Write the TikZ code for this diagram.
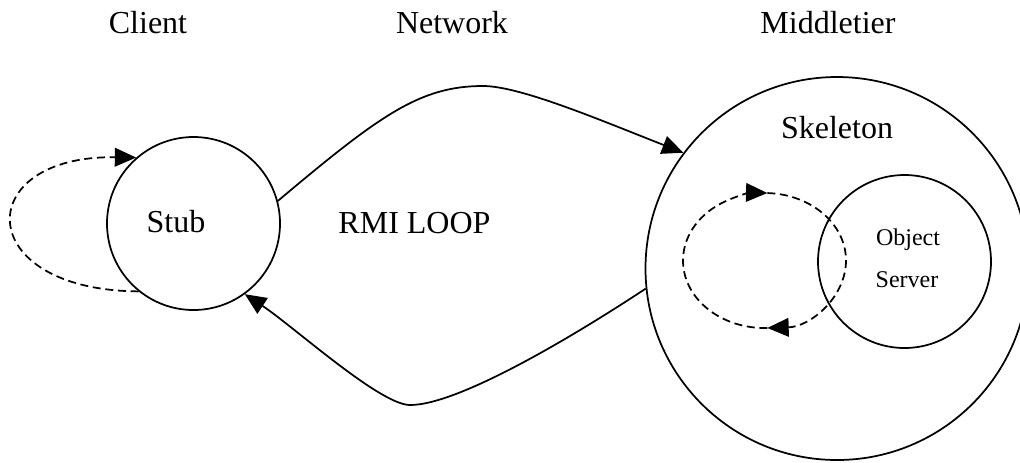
\documentclass[tikz,border=0pt]{standalone}
\usepackage{fontspec}
\setmainfont{Liberation Serif}
\usetikzlibrary{arrows.meta}

\tikzset{
  ring/.style={draw, circle, line width=1.3pt, inner sep=0pt},
  title/.style={anchor=base, inner sep=0pt, font=\fontsize{24}{28}\selectfont},
  small/.style={anchor=base, inner sep=0pt, font=\fontsize{18}{22}\selectfont},
  flow/.style={line width=1.3pt, -{Triangle[length=16pt, width=14pt]}},
  dashflow/.style={flow, dash pattern=on 6pt off 3.5pt},
}

\begin{document}
\begin{tikzpicture}[x=0.75pt, y=0.75pt]
  \useasboundingbox (0,0) rectangle (1020,-462);

  % tier headings
  \node[title] (client)  at (148,-33) {Client};
  \node[title] (network) at (452,-33) {Network};
  \node[title] (middle)  at (828,-33) {Middletier};

  % stub on the client side
  \node[ring, minimum size=129.75pt] (stub) at (193.5,-223.5) {};
  \node[title] (stubtxt) at (176,-232) {Stub};

  % skeleton with the object server inside
  \node[ring, minimum size=287.25pt] (skel) at (837,-268.5) {};
  \node[title] (skeltxt) at (837,-138) {Skeleton};
  \node[ring, minimum size=129.75pt] (obj) at (904.5,-261.5) {};
  \node[small] (objtxt) at (908,-245) {Object};
  \node[small] (srvtxt) at (907,-287) {Server};

  \node[title] (rmi) at (414.5,-233) {RMI LOOP};

  % waypoints of the RMI loop
  \coordinate (ntop) at (483,-86);
  \coordinate (nbot) at (410,-405);
  \coordinate (inner) at (764.5,-260.5);

  % request: stub -> skeleton
  \draw[flow] (stub.15) .. controls (380,-115) and (420,-86) .. (ntop)
                        .. controls (520,-86) and (600,-120) .. (skel.143.3);
  % reply: skeleton -> stub
  \draw[flow] (skel.186.4) .. controls (580,-332) and (460,-405) .. (nbot)
                           .. controls (380,-405) and (293,-326) .. (stub.306.7);

  % local loop at the stub
  \draw[dashflow] (stub.231) .. controls (-29,-290) and (-29,-155) .. (stub.131);

  % local loop inside the skeleton
  \draw[dashflow] (inner) ++(272:81.5 and 67.5)
    arc[start angle=272, end angle=88, x radius=81.5, y radius=67.5];
  \draw[dashflow] (inner) ++(88:81.5 and 67.5)
    arc[start angle=88, end angle=-88, x radius=81.5, y radius=67.5];
\end{tikzpicture}
\end{document}
